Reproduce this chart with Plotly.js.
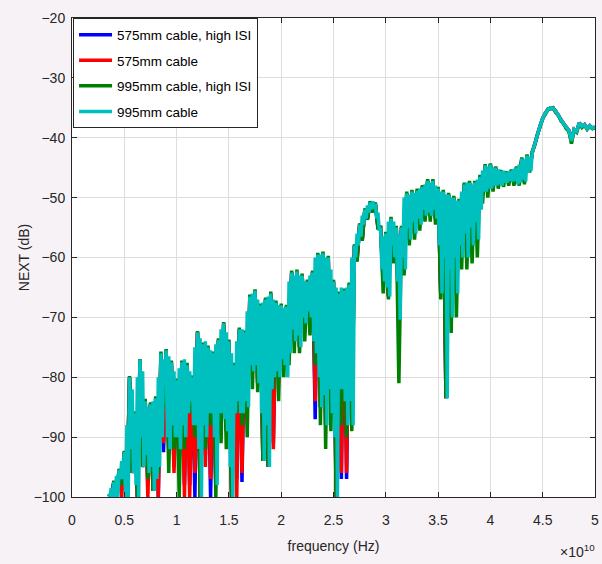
<!DOCTYPE html>
<html>
<head>
<meta charset="utf-8">
<script src="https://cdn.plot.ly/plotly-3.0.1.min.js"></script>
<style>html,body{margin:0;padding:0;background:#f6f2f6;}</style>
</head>
<body>
<div id="chart" style="width:602px;height:564px;"></div>
<script>
// coarse frequency grid in GHz (used by the 575mm and 995mm high-ISI runs)
const freqGHz = [
 3.5,3.75,4,4.25,4.5,4.75,5,5.25,
 5.5,5.75,6,6.25,6.5,6.75,7,7.25,
 7.5,7.75,8,8.25,8.5,8.75,9,9.25,
 9.5,9.75,10,10.25,10.5,10.75,11,11.25,
 11.5,11.75,12,12.25,12.5,12.75,13,13.25,
 13.5,13.75,14,14.25,14.5,14.75,15,15.25,
 15.5,15.75,16,16.25,16.5,16.75,17,17.25,
 17.5,17.75,18,18.25,18.5,18.75,19,19.25,
 19.5,19.75,20,20.25,20.5,20.75,21,21.25,
 21.5,21.75,22,22.25,22.5,22.75,23,23.25,
 23.5,23.75,24,24.25,24.5,24.75,25,25.25,
 25.5,25.75,26,26.25,26.5,26.75,27,27.25,
 27.5,27.75,28,28.25,28.5,28.75,29,29.25,
 29.5,29.75,30,30.25,30.5,30.75,31,31.25,
 31.5,31.75,32,32.25,32.5,32.75,33,33.25,
 33.5,33.75,34,34.25,34.5,34.75,35,35.25,
 35.5,35.75,36,36.25,36.5,36.75,37,37.25,
 37.5,37.75,38,38.25,38.5,38.75,39,39.25,
 39.5,39.75,40,40.25,40.5,40.75,41,41.25,
 41.5,41.75,42,42.25,42.5,42.75,43,43.25,
 43.5,43.75,44,44.25,44.5,44.75,45,45.25,
 45.5,45.75,46,46.25,46.5,46.75,47,47.25,
 47.5,47.75,48,48.25,48.5,48.75,49,49.25,
 49.5,49.75,50
];

// fine frequency grid in GHz (used by the 995mm cable run)
const freqFineGHz = [
 3.5,3.625,3.75,3.875,4,4.125,4.25,4.375,4.5,4.625,4.75,4.875,5,5.125,5.25,5.375,
 5.5,5.625,5.75,5.875,6,6.125,6.25,6.375,6.5,6.625,6.75,6.875,7,7.125,7.25,7.375,
 7.5,7.625,7.75,7.875,8,8.125,8.25,8.375,8.5,8.625,8.75,8.875,9,9.125,9.25,9.375,
 9.5,9.625,9.75,9.875,10,10.125,10.25,10.375,10.5,10.625,10.75,10.875,11,11.125,11.25,11.375,
 11.5,11.625,11.75,11.875,12,12.125,12.25,12.375,12.5,12.625,12.75,12.875,13,13.125,13.25,13.375,
 13.5,13.625,13.75,13.875,14,14.125,14.25,14.375,14.5,14.625,14.75,14.875,15,15.125,15.25,15.375,
 15.5,15.625,15.75,15.875,16,16.125,16.25,16.375,16.5,16.625,16.75,16.875,17,17.125,17.25,17.375,
 17.5,17.625,17.75,17.875,18,18.125,18.25,18.375,18.5,18.625,18.75,18.875,19,19.125,19.25,19.375,
 19.5,19.625,19.75,19.875,20,20.125,20.25,20.375,20.5,20.625,20.75,20.875,21,21.125,21.25,21.375,
 21.5,21.625,21.75,21.875,22,22.125,22.25,22.375,22.5,22.625,22.75,22.875,23,23.125,23.25,23.375,
 23.5,23.625,23.75,23.875,24,24.125,24.25,24.375,24.5,24.625,24.75,24.875,25,25.125,25.25,25.375,
 25.5,25.625,25.75,25.875,26,26.125,26.25,26.375,26.5,26.625,26.75,26.875,27,27.125,27.25,27.375,
 27.5,27.625,27.75,27.875,28,28.125,28.25,28.375,28.5,28.625,28.75,28.875,29,29.125,29.25,29.375,
 29.5,29.625,29.75,29.875,30,30.125,30.25,30.375,30.5,30.625,30.75,30.875,31,31.125,31.25,31.375,
 31.5,31.625,31.75,31.875,32,32.125,32.25,32.375,32.5,32.625,32.75,32.875,33,33.125,33.25,33.375,
 33.5,33.625,33.75,33.875,34,34.125,34.25,34.375,34.5,34.625,34.75,34.875,35,35.125,35.25,35.375,
 35.5,35.625,35.75,35.875,36,36.125,36.25,36.375,36.5,36.625,36.75,36.875,37,37.125,37.25,37.375,
 37.5,37.625,37.75,37.875,38,38.125,38.25,38.375,38.5,38.625,38.75,38.875,39,39.125,39.25,39.375,
 39.5,39.625,39.75,39.875,40,40.125,40.25,40.375,40.5,40.625,40.75,40.875,41,41.125,41.25,41.375,
 41.5,41.625,41.75,41.875,42,42.125,42.25,42.375,42.5,42.625,42.75,42.875,43,43.125,43.25,43.375,
 43.5,43.625,43.75,43.875,
 44,44.25,44.5,44.75,45,45.25,45.5,45.75,46,46.25,46.5,46.75,47,47.25,47.5,47.75,
 48,48.25,48.5,48.75,49,49.25,49.5,49.75,50
];

// NEXT (dB) — 575mm cable, high ISI (coarse grid)
const next575HighISI = [
 -99.5,-100,-97.5,-100,-95.5,-99,-92.5,-100,
 -80,-96,-86,-100,-77,-95,-84,-98,
 -84.5,-99,-83.5,-100,-76,-92.5,-75.5,-92,
 -77.5,-95,-80.5,-94,-77.5,-98,-78,-98,
 -80,-100,-72.5,-100,-74.5,-93,-75,-100,
 -76,-98,-73.8,-86,-71,-89,-74,-100,
 -78,-97,-72,-97.5,-72.5,-85,-66.5,-79,
 -65.5,-81,-68,-94,-67,-95,-66,-91,
 -67.5,-80,-68,-78,-68.2,-76,-62.5,-74,
 -62.3,-75,-63,-71,-64,-70,-62.5,-87,
 -59.5,-85,-59.3,-88,-60,-86,-64,-100,
 -66,-97,-65.5,-97,-64.5,-88,-58,-60.5,
 -54.5,-57,-52,-53.5,-50.8,-52.3,-51,-55,
 -55,-64,-56,-66.5,-53.5,-60,-55,-70.4,
 -55,-62,-49.3,-57,-49,-56,-48.8,-54.5,
 -48.2,-53,-47.2,-53,-47.2,-53.5,-48.5,-66,
 -49,-83.5,-49.5,-70,-50,-66,-50.5,-60,
 -47.8,-60,-47.5,-58,-47.5,-57,-46.5,-49,
 -44.6,-48.5,-44.5,-48,-45,-47.8,-45.6,-47.5,
 -45.8,-47.2,-45.5,-47.2,-45,-47.5,-43.5,-47.3,
 -43,-45.5,-42.5,-41,-39.5,-38,-36.8,-35.9,
 -35.3,-35,-35.1,-35.6,-36.3,-37,-37.7,-38.2,
 -38.8,-40.5,-38.6,-38.9,-37.5,-38.1,-37.8,-38.5,
 -38,-38.4,-38.2
];

// NEXT (dB) — 575mm cable (coarse grid)
const next575 = [
 -99.5,-100,-97.5,-100,-95.5,-100,-92.5,-100,
 -80,-96,-86,-100,-77,-95,-84,-100,
 -84.5,-99,-83.5,-100,-76,-91,-75.5,-92,
 -77.5,-96,-80.5,-95,-77.5,-100,-78,-100,
 -80,-96,-72.5,-100,-74.5,-95,-75,-97,
 -76,-98,-73.8,-86,-71,-89,-74,-100,
 -78,-100,-72,-96,-72.5,-85,-66.5,-79,
 -65.5,-81,-68,-94,-67,-95,-66,-92,
 -67.5,-80,-68,-78,-68.2,-76,-62.5,-74,
 -62.3,-75,-63,-71,-64,-70,-62.5,-84,
 -59.5,-85,-59.3,-88,-60,-86,-64,-100,
 -66,-96,-65.5,-96,-64.5,-88,-58,-60.5,
 -54.5,-57,-52,-53.5,-50.8,-52.3,-51,-55,
 -55,-64,-56,-66.5,-53.5,-60,-55,-70.4,
 -55,-62,-49.3,-57,-49,-56,-48.8,-54.5,
 -48.2,-53,-47.2,-53,-47.2,-53.5,-48.5,-66,
 -49,-83.5,-49.5,-70,-50,-66,-50.5,-60,
 -47.8,-60,-47.5,-58,-47.5,-57,-46.5,-49,
 -44.6,-48.5,-44.5,-48,-45,-47.8,-45.6,-47.5,
 -45.8,-47.2,-45.5,-47.2,-45,-47.5,-43.5,-47.3,
 -43,-45.5,-42.5,-41,-39.5,-38,-36.8,-35.9,
 -35.3,-35,-35.1,-35.6,-36.3,-37,-37.7,-38.2,
 -38.8,-40.5,-38.6,-38.9,-37.5,-38.1,-37.8,-38.5,
 -38,-38.4,-38.2
];

// NEXT (dB) — 995mm cable, high ISI (coarse grid)
const next995HighISI = [
 -99.5,-100,-97.3,-100,-95.3,-98,-92.3,-100,
 -79.8,-96,-85.7,-100,-77,-95,-83.6,-97,
 -84.2,-99,-83.2,-96,-75.7,-85,-75.3,-96,
 -77.2,-92,-80.2,-100,-77.2,-92,-77.6,-86,
 -79.7,-90,-72.3,-100,-74.2,-92,-74.7,-88,
 -75.7,-100,-73.5,-91,-70.8,-92,-73.7,-100,
 -77.6,-86,-71.7,-88,-72.2,-90,-66.2,-82,
 -65.3,-82.5,-67.7,-94,-66.7,-95,-65.7,-82,
 -67.2,-84,-67.7,-80,-67.9,-78,-62.2,-76,
 -62,-76,-62.7,-74,-63.7,-73,-62.2,-78,
 -59.2,-88,-59,-92,-59.7,-89,-63.7,-100,
 -65.7,-88,-65.2,-90,-64.2,-89,-57.8,-60.7,
 -54.3,-57.2,-51.8,-53.7,-50.6,-52.5,-50.8,-55.3,
 -54.7,-66,-55.7,-67,-53.2,-61,-54.7,-81,
 -54.7,-63,-49,-58,-48.7,-57,-48.5,-55.5,
 -47.9,-54,-46.9,-54,-46.9,-54.5,-48.2,-67,
 -48.7,-83.5,-49.2,-72.6,-49.7,-70,-50.2,-62,
 -47.5,-62,-47.2,-61,-47.2,-60,-46.2,-51,
 -44.4,-50,-44.3,-49,-44.8,-48.5,-45.4,-48.2,
 -45.6,-48,-45.3,-48,-44.8,-48,-43.3,-47.8,
 -42.8,-45.8,-42.3,-41.2,-39.4,-38.2,-36.7,-36.1,
 -35.2,-35.2,-35,-35.8,-36.2,-37.2,-37.6,-38.5,
 -38.9,-41,-38.7,-39.1,-37.6,-38.3,-37.9,-38.6,
 -38.1,-38.5,-38.3
];

// NEXT (dB) — 995mm cable (fine grid)
const next995 = [
 -99.5,-100,-98.5,-100,-97.5,-100,-96.5,-100,-95.5,-97,-94,-97,-92.5,-100,-88,-100,
 -80,-92,-82,-96,-86,-98,-80,-100,-77,-90,-79,-95,-84,-93,-85,-96,
 -84.5,-95,-84,-99,-83.5,-97,-80,-95,-76,-90,-77,-81,-75.5,-90,-76.5,-92,
 -77.5,-88,-79,-90,-80.5,-90,-78.5,-92,-77.5,-88,-77,-90,-78,-86,-79,-84,
 -80,-88,-75,-88,-72.5,-92,-73.5,-100,-74.5,-88,-74,-90,-75,-86,-75.5,-86,
 -76,-90,-74.5,-98,-73.8,-86,-72,-86,-71,-87,-72.5,-89,-74,-95,-76,-100,
 -78,-86,-74,-84,-72,-86,-72,-86,-72.5,-84,-69,-85,-66.5,-78,-66,-79,
 -65.5,-78,-67,-81,-68,-86,-67.5,-94,-67,-88,-66.5,-95,-66,-82,-67,-80,
 -67.5,-79,-68,-80,-68,-77,-68.5,-78,-68.2,-80,-64,-76,-62.5,-72,-63,-74,
 -62.3,-73,-63,-75,-63,-70,-64,-71,-64,-69,-63,-70,-62.5,-74,-60,-76,
 -59.5,-80,-59.5,-85,-59.3,-83,-60,-88,-60,-82,-62,-86,-64,-90,-65,-100,
 -66,-82,-65,-82,-65.5,-84,-65,-88,-64.5,-84,-60,-88,-58,-60,-56,-58,
 -54.5,-56.5,-53,-54.5,-52,-53.5,-51.3,-52.5,-50.8,-52,-50.6,-51.8,-51,-53.5,-52.5,-55.5,
 -55,-62,-56.5,-64,-56,-65,-54,-66.5,-53.5,-58,-54,-60,-55,-64,-56,-70.4,
 -55,-60,-50,-62,-49.3,-55,-49.5,-57,-49,-54,-49.2,-56,-48.8,-53.5,-48.5,-54.5,
 -48.2,-52,-47.8,-53,-47.2,-52.5,-47.5,-53,-47.2,-52,-48,-53.5,-48.5,-58,-49,-66,
 -49,-60,-49.5,-83.5,-49.5,-62,-50,-70,-50,-60,-50.5,-66,-50.5,-58,-49,-60,
 -47.8,-56,-47.5,-60,-47.5,-55,-47.8,-58,-47.5,-54,-47,-57,-46.5,-52,-45.5,-49,
 -44.6,-49,-44.8,-48.5,-44.5,-48.5,-45,-48,-45,-48,-45.3,-47.8,-45.6,-48,-45.5,-47.5,
 -45.8,-47.5,-45.6,-47.2,-45.5,-47.3,-45.2,-47.2,-45,-47.8,-44.5,-47.5,-43.5,-47,-43.6,-47.3,
 -43,-45.8,-43.2,-45.5,
 -42.5,-41,-39.5,-38,-36.8,-35.9,-35.3,-35,-35.1,-35.6,-36.3,-37,-37.7,-38.2,-38.8,-40.5,
 -38.6,-38.9,-37.5,-38.1,-37.8,-38.5,-38,-38.4,-38.2
];

const seriesNames = ['575mm cable, high ISI', '575mm cable', '995mm cable, high ISI', '995mm cable'];
const seriesColors = ['#0000ff', '#ff0000', '#008000', '#00bfbf'];
const seriesFreq = [freqGHz, freqGHz, freqGHz, freqFineGHz];
const seriesValues = [next575HighISI, next575, next995HighISI, next995];

const xTickVals = [0, 0.5e10, 1e10, 1.5e10, 2e10, 2.5e10, 3e10, 3.5e10, 4e10, 4.5e10, 5e10];
const xTickText = ['0', '0.5', '1', '1.5', '2', '2.5', '3', '3.5', '4', '4.5', '5'];

const traces = seriesValues.map((vals, i) => ({
  type: 'scatter',
  mode: 'lines',
  x: seriesFreq[i].map(f => f * 1e9),
  y: vals,
  name: seriesNames[i],
  legendgroup: 'g' + i,
  line: {color: seriesColors[i], width: 3.5, simplify: false},
  hoverinfo: 'skip'
}));

const FONT = 'Liberation Sans, Arial, sans-serif';

const axisCommon = {
  showline: true, linecolor: '#262626', linewidth: 1, mirror: 'ticks',
  ticks: 'inside', ticklen: 5, tickcolor: '#262626', tickwidth: 1,
  showgrid: true, gridcolor: '#dedede', gridwidth: 1,
  zeroline: false,
  tickfont: {family: FONT, size: 14, color: '#262626'}
};

const layout = {
  width: 602, height: 564,
  paper_bgcolor: '#f6f2f6', plot_bgcolor: '#ffffff',
  margin: {l: 72, r: 7, t: 18, b: 67, pad: 0},
  font: {family: FONT, color: '#262626', size: 13},
  showlegend: true,
  legend: {
    x: 0.002, y: 0.999, xanchor: 'left', yanchor: 'top',
    bgcolor: '#ffffff', bordercolor: '#262626', borderwidth: 1,
    font: {family: FONT, size: 13.5, color: '#000000'},
    tracegroupgap: 5, itemwidth: 33, traceorder: 'grouped'
  },
  xaxis: Object.assign({}, axisCommon, {
    range: [0, 5e10], tickmode: 'array', tickvals: xTickVals, ticktext: xTickText,
    ticklabelstandoff: 10,
    title: {text: 'frequency (Hz)', standoff: 14, font: {family: FONT, size: 14, color: '#262626'}}
  }),
  yaxis: Object.assign({}, axisCommon, {
    range: [-100, -20], dtick: 10, tick0: -100,
    ticklabelstandoff: 3,
    title: {text: 'NEXT (dB)', standoff: 0, font: {family: FONT, size: 14, color: '#262626'}}
  }),
  annotations: [{
    text: '×10<sup>10</sup>', xref: 'paper', yref: 'paper',
    x: 1.004, y: -0.113, xanchor: 'right', yanchor: 'middle',
    showarrow: false, font: {family: FONT, size: 14, color: '#262626'}
  }]
};

Plotly.newPlot('chart', traces, layout, {staticPlot: true, displayModeBar: false});
</script>
</body>
</html>
